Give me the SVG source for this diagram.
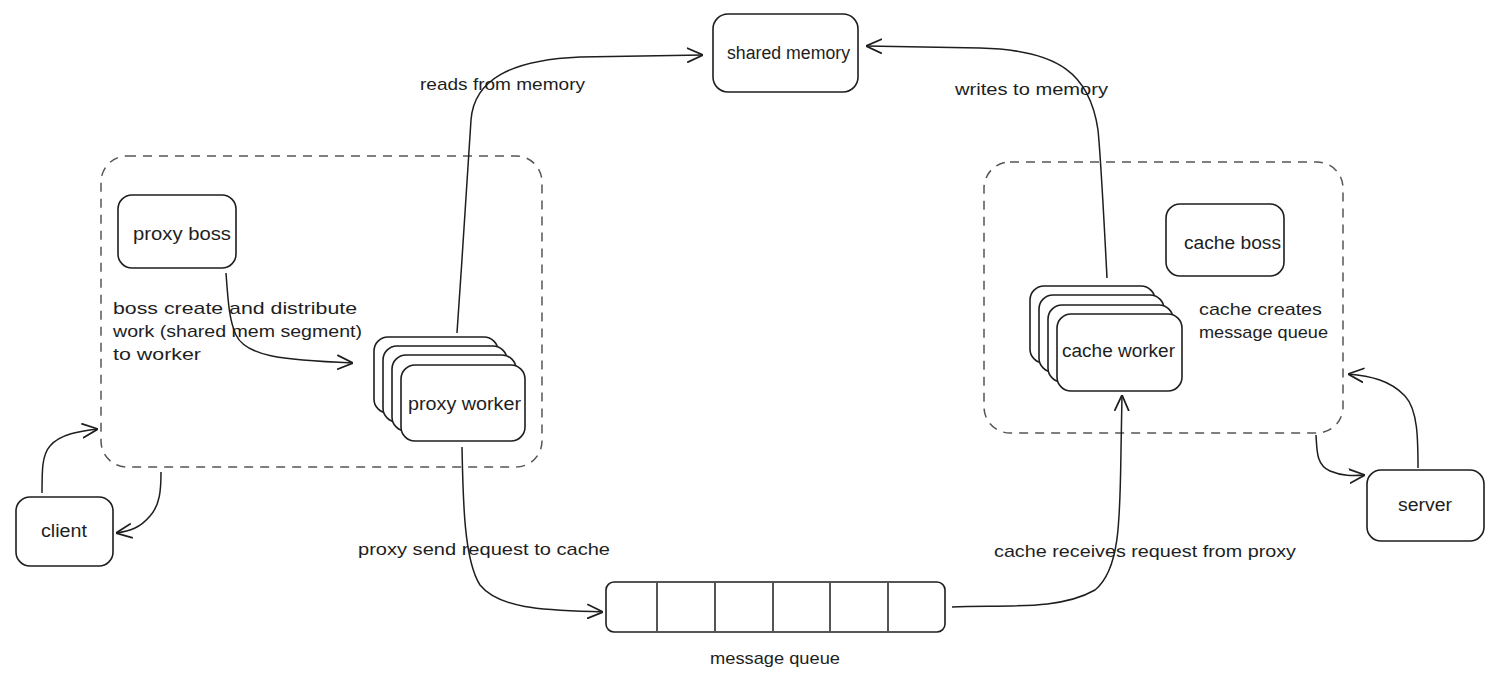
<svg xmlns="http://www.w3.org/2000/svg" width="1497" height="690" viewBox="0 0 1497 690">
<style>
.node{fill:#ffffff;stroke:#1e1e1e;stroke-width:1.6}
.group{fill:none;stroke:#555555;stroke-width:1.5;stroke-dasharray:9 7}
.edge{fill:none;stroke:#1e1e1e;stroke-width:1.5}
.t{font-family:"Liberation Sans",Arial,sans-serif;font-size:17px;fill:#1e1e1e}
.n{font-family:"Liberation Sans",Arial,sans-serif;font-size:18px;fill:#1e1e1e}
.lbl{font-family:"Liberation Sans Narrow","Liberation Sans",Arial,sans-serif;font-size:17px;fill:#1e1e1e}
</style>
<defs>
<marker id="arr" viewBox="0 0 10 10" refX="10" refY="5" markerWidth="16" markerHeight="16" markerUnits="userSpaceOnUse" orient="auto">
<path d="M0,0.5 L10,5 L0,9.5" fill="none" stroke="#1e1e1e" stroke-width="1.1"/>
</marker>
</defs>
<rect width="1497" height="690" fill="#ffffff"/>

<g id="proxy-group">
<rect class="group" x="101" y="156" width="441" height="311" rx="26"/>
</g>
<g id="cache-group">
<rect class="group" x="984" y="162" width="359" height="271" rx="26"/>
</g>

<g id="connectors">
<path class="edge" marker-end="url(#arr)" d="M457,333 C462,260 468,170 471,120 C474,80 510,60 580,57 L703,55"/>
<path class="edge" marker-end="url(#arr)" d="M1107,278 C1104,220 1101,160 1098,130 C1090,75 1060,50 980,48 L866,46"/>
<path class="edge" marker-end="url(#arr)" d="M226,273 C228,300 229,320 236,335 C246,356 280,360 353,363"/>
<path class="edge" marker-end="url(#arr)" d="M462,447 C463,500 464,560 480,585 C500,610 550,610 603,612"/>
<path class="edge" marker-end="url(#arr)" d="M952,607 C1010,605 1060,610 1095,590 C1120,570 1120,520 1121,450 L1122,395"/>
<path class="edge" marker-end="url(#arr)" d="M42,493 C42,470 42,455 50,446 C60,434 80,431 98,429"/>
<path class="edge" marker-end="url(#arr)" d="M161,472 C161,490 160,505 150,516 C140,528 130,531 116,533"/>
<path class="edge" marker-end="url(#arr)" d="M1418,468 C1418,440 1418,410 1405,396 C1390,380 1370,376 1348,374"/>
<path class="edge" marker-end="url(#arr)" d="M1316,435 C1317,450 1316,465 1330,471 C1342,476 1352,476 1365,475"/>
</g>

<g id="shared-memory">
<rect class="node" x="713" y="14" width="145" height="78" rx="15"/>
<text class="n" x="727" y="59" textLength="123" lengthAdjust="spacingAndGlyphs">shared memory</text>
</g>

<g id="proxy-boss">
<rect class="node" x="118" y="195" width="118" height="73" rx="14"/>
<text class="n" x="133" y="240" textLength="98" lengthAdjust="spacingAndGlyphs">proxy boss</text>
</g>

<g id="proxy-worker">
<rect class="node" x="374" y="337" width="124" height="76" rx="14"/>
<rect class="node" x="383" y="346" width="124" height="76" rx="14"/>
<rect class="node" x="392" y="355" width="124" height="76" rx="14"/>
<rect class="node" x="401" y="365" width="124" height="76" rx="14"/>
<text class="n" x="408" y="410" textLength="113" lengthAdjust="spacingAndGlyphs">proxy worker</text>
</g>

<g id="cache-boss">
<rect class="node" x="1166" y="204" width="118" height="72" rx="14"/>
<text class="n" x="1184" y="249" textLength="97" lengthAdjust="spacingAndGlyphs">cache boss</text>
</g>

<g id="cache-worker">
<rect class="node" x="1030" y="286" width="125" height="77" rx="14"/>
<rect class="node" x="1039" y="295" width="125" height="77" rx="14"/>
<rect class="node" x="1048" y="305" width="125" height="77" rx="14"/>
<rect class="node" x="1057" y="314" width="125" height="77" rx="14"/>
<text class="n" x="1062" y="357" textLength="113" lengthAdjust="spacingAndGlyphs">cache worker</text>
</g>

<g id="client">
<rect class="node" x="16" y="497" width="97" height="69" rx="14"/>
<text class="n" x="41" y="537" textLength="46" lengthAdjust="spacingAndGlyphs">client</text>
</g>

<g id="server">
<rect class="node" x="1367" y="470" width="117" height="71" rx="14"/>
<text class="n" x="1398" y="511" textLength="54" lengthAdjust="spacingAndGlyphs">server</text>
</g>

<g id="message-queue">
<rect class="node" x="606" y="582" width="339" height="50" rx="8"/>
<path class="edge" d="M657,583 V631 M715,583 V631 M773,583 V631 M830,583 V631 M888,583 V631"/>
</g>

<g id="labels">
<text class="t" x="113" y="314" textLength="244" lengthAdjust="spacingAndGlyphs">boss create and distribute</text>
<text class="t" x="113" y="337" textLength="249" lengthAdjust="spacingAndGlyphs">work (shared mem segment)</text>
<text class="t" x="113" y="360" textLength="88" lengthAdjust="spacingAndGlyphs">to worker</text>
<text class="t" x="1199" y="315" textLength="123" lengthAdjust="spacingAndGlyphs">cache creates</text>
<text class="t" x="1199" y="338" textLength="129" lengthAdjust="spacingAndGlyphs">message queue</text>
<text class="lbl" x="420" y="90" textLength="165" lengthAdjust="spacingAndGlyphs">reads from memory</text>
<text class="lbl" x="955" y="95" textLength="153" lengthAdjust="spacingAndGlyphs">writes to memory</text>
<text class="lbl" x="358" y="555" textLength="252" lengthAdjust="spacingAndGlyphs">proxy send request to cache</text>
<text class="lbl" x="994" y="557" textLength="302" lengthAdjust="spacingAndGlyphs">cache receives request from proxy</text>
<text class="lbl" x="710" y="664" textLength="130" lengthAdjust="spacingAndGlyphs">message queue</text>
</g>
</svg>
